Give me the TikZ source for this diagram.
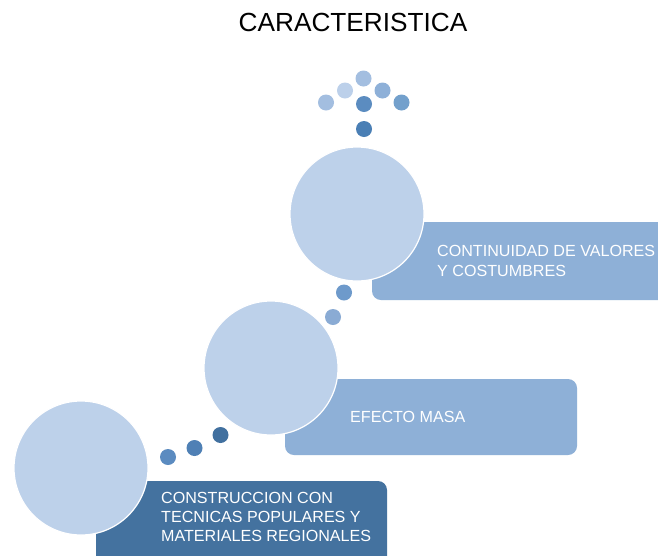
\documentclass[tikz,border=0pt]{standalone}
\usepackage{fontspec}
\setmainfont{Liberation Sans}
\begin{document}
\begin{tikzpicture}[x=1pt,y=-1pt,
  bigcirc/.style={circle,fill=circfill,draw=white,line width=1.2pt,minimum size=134pt,inner sep=0pt},
  boxshape/.style={rounded corners=9pt},
  boxtext/.style={text=white,font=\fontsize{16.1}{19.3}\selectfont,align=left,anchor=west,inner sep=0pt},
  dotn/.style={circle,inner sep=0pt,minimum size=16pt}]
\definecolor{circfill}{HTML}{BDD1EA}
\definecolor{lightbox}{HTML}{8EB0D7}
\definecolor{darkbox}{HTML}{44729F}
\useasboundingbox (0,0) rectangle (658,555);
\fill[white] (0,0) rectangle (658,555);
% title
\node[font=\fontsize{26.2}{30}\selectfont] (title) at (353,22) {CARACTERISTICA};
% boxes
\fill[lightbox,boxshape] (372,222) rectangle (668,300);
\fill[lightbox,boxshape] (285,379) rectangle (577,455);
\fill[darkbox,boxshape] (96,481) rectangle (387,565);
% circles
\node[bigcirc] (c3) at (357,214) {};
\node[bigcirc] (c2) at (271,368) {};
\node[bigcirc] (c1) at (81,468) {};
% texts
\node[boxtext] (t3) at (437,261) {CONTINUIDAD DE VALORES\\Y COSTUMBRES};
\node[boxtext] (t2) at (350,417) {EFECTO MASA};
\node[boxtext] (t1) at (161,517) {CONSTRUCCION CON\\TECNICAS POPULARES Y\\MATERIALES REGIONALES};
% dots lower
\node[dotn,fill={rgb,255:red,91;green,139;blue,192}] (d1) at (168,457) {};
\node[dotn,fill={rgb,255:red,79;green,128;blue,181}] (d2) at (194.5,448) {};
\node[dotn,fill={rgb,255:red,65;green,112;blue,159}] (d3) at (220.5,435) {};
% dots middle
\node[dotn,fill={rgb,255:red,138;green,171;blue,212}] (d4) at (333,317) {};
\node[dotn,fill={rgb,255:red,110;green,154;blue,203}] (d5) at (344,292.5) {};
% dots top
\node[dotn,fill={rgb,255:red,74;green,127;blue,181}] (d6) at (364,129) {};
\node[dotn,fill={rgb,255:red,91;green,140;blue,192}] (d7) at (364,104) {};
\node[dotn,fill={rgb,255:red,163;green,190;blue,224}] (d8) at (326,102.5) {};
\node[dotn,fill={rgb,255:red,188;green,208;blue,234}] (d9) at (345,90.5) {};
\node[dotn,fill={rgb,255:red,163;green,190;blue,224}] (d10) at (363.5,78.5) {};
\node[dotn,fill={rgb,255:red,142;green,176;blue,216}] (d11) at (382.5,90.5) {};
\node[dotn,fill={rgb,255:red,115;green,160;blue,204}] (d12) at (401.5,102.5) {};
\end{tikzpicture}
\end{document}
